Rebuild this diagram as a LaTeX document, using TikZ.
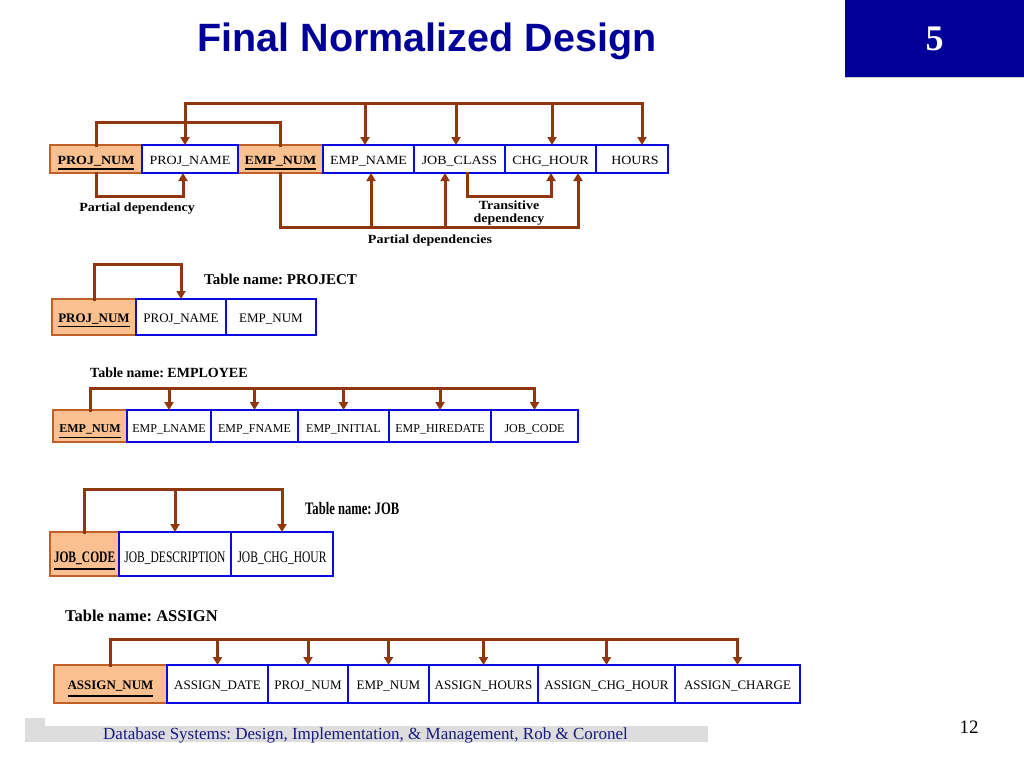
\documentclass[tikz,border=0pt]{standalone}
\usepackage{fontspec}
\setmainfont{Liberation Serif}
\newfontfamily\titlefont{Liberation Sans}
\newfontfamily\topf[FakeStretch=1.12]{Liberation Serif}
\newfontfamily\condf[FakeStretch=0.72]{Liberation Serif}
\usetikzlibrary{arrows.meta}
\newcommand\keyu[2][2pt]{\setbox0\hbox{#2}\vtop{\copy0\kern#1\hrule height 1.6pt width \wd0}}
\definecolor{depc}{RGB}{145,55,15}
\definecolor{keyfill}{RGB}{250,192,143}
\definecolor{keydraw}{RGB}{192,96,40}
\definecolor{cellblue}{RGB}{10,10,225}
\definecolor{titleblue}{RGB}{0,0,153}
\definecolor{footblue}{RGB}{25,25,125}
\definecolor{bargray}{RGB}{221,221,221}
\frenchspacing
\begin{document}
\frenchspacing
\begin{tikzpicture}[x=1pt,y=-1pt,
  cell/.style={draw=cellblue, line width=2.5pt, fill=white, inner sep=0pt, outer sep=0pt, anchor=north west, text depth=0pt},
  keycell/.style={cell, draw=keydraw, fill=keyfill},
  dep/.style={draw=depc, line width=3pt, line cap=rect},
  deparrow/.style={dep, -{Triangle[length=8pt,width=9pt]}},
  lab/.style={inner sep=0pt}]
\useasboundingbox (0,0) rectangle (1024,768);

% ---------- title ----------
\node[anchor=base, inner sep=0pt, text=titleblue, font=\titlefont\bfseries\fontsize{39.5}{40}\selectfont] (title) at (427,52) {Final Normalized Design};
\node[fill=titleblue, minimum width=179, minimum height=77, inner sep=0pt, anchor=north west] (box) at (845,0) {};
\draw[gray!45, line width=1.5pt] (box.south west) -- (box.south east);
\node[text=white, font=\bfseries\fontsize{36}{36}\selectfont] (num) at (box.center) {5};

% ---------- top dependency diagram ----------
\begin{scope}[font=\topf\fontsize{12.5}{14}\selectfont, cell/.append style={minimum height=28, text height=10pt}]
\node[keycell, minimum width=92] (t1) at (50,145) {\keyu[2.5pt]{\bfseries PROJ\_NUM}};
\node[keycell, minimum width=85] (t3) at (238,145) {\keyu[2.5pt]{\bfseries EMP\_NUM}};
\node[cell, minimum width=96] (t2) at (142,145) {PROJ\_NAME};
\node[cell, minimum width=91] (t4) at (323,145) {EMP\_NAME};
\node[cell, minimum width=91] (t5) at (414,145) {JOB\_CLASS};
\node[cell, minimum width=91] (t6) at (505,145) {CHG\_HOUR};
\node[cell, minimum width=72] (t7) at (596,145) {\hspace*{6pt}HOURS};
\end{scope}
% composite key bracket
\draw[dep] (t1.north) |- (t3.north |- 0,122) -- (t3.north);
% full dependency rail
\coordinate (r1) at (185,103);
\coordinate (r2) at (642,103);
\draw[dep] (r1) -- (r2);
\foreach \xx/\nn in {185/t2, 365/t4, 456/t5, 552/t6, 642/t7}
  \draw[deparrow] (\xx,103) -- (\xx,0 |- \nn.north);
% partial dependency PROJ_NUM -> PROJ_NAME
\coordinate (a1) at (183,196);
\draw[deparrow] (t1.south) |- (a1) -- (a1 |- t2.south);
% partial dependencies from EMP_NUM
\coordinate (b0) at (t3.south |- 0,227);
\coordinate (b1) at (578,227);
\draw[dep] (t3.south) -- (b0) -- (b1);
\foreach \xx/\nn in {371/t4, 445/t5, 578/t6}
  \draw[deparrow] (\xx,227) -- (\xx,0 |- \nn.south);
% transitive dependency JOB_CLASS -> CHG_HOUR
\coordinate (c0) at (467,0 |- t5.south);
\coordinate (c1) at (551,196);
\draw[deparrow] (c0) |- (c1) -- (c1 |- t6.south);
\node[lab, font=\topf\bfseries\fontsize{12.5}{12}\selectfont] (pd) at (137,209) {Partial dependency};
\node[lab, align=center, font=\topf\bfseries\fontsize{12.5}{13}\selectfont] (td) at (509,213) {Transitive\\dependency};
\node[lab, font=\topf\bfseries\fontsize{12.5}{12}\selectfont] (pds) at (430,240) {Partial dependencies};

% ---------- PROJECT ----------
\begin{scope}[font=\fontsize{13}{14}\selectfont, cell/.append style={minimum height=36, text height=10pt}]
\node[keycell, minimum width=84] (p1) at (52,299) {\keyu[2pt]{\bfseries PROJ\_NUM}};
\node[cell, minimum width=90] (p2) at (136,299) {PROJ\_NAME};
\node[cell, minimum width=90] (p3) at (226,299) {EMP\_NUM};
\end{scope}
\draw[deparrow] (p1.north) |- (p2.north |- 0,264) -- (p2.north);
\node[lab, anchor=west, font=\bfseries\fontsize{15}{15}\selectfont] (tp) at (204,279) {Table name: PROJECT};

% ---------- EMPLOYEE ----------
\node[lab, anchor=west, font=\bfseries\fontsize{14}{14}\selectfont] (te) at (90,373) {Table name: EMPLOYEE};
\begin{scope}[font=\fontsize{12}{14}\selectfont, cell/.append style={minimum height=32, text height=12pt}]
\node[keycell, minimum width=74] (e1) at (53,410) {\keyu[3pt]{\bfseries EMP\_NUM}};
\node[cell, minimum width=84] (e2) at (127,410) {EMP\_LNAME};
\node[cell, minimum width=87] (e3) at (211,410) {EMP\_FNAME};
\node[cell, minimum width=91] (e4) at (298,410) {EMP\_INITIAL};
\node[cell, minimum width=102] (e5) at (389,410) {EMP\_HIREDATE};
\node[cell, minimum width=87] (e6) at (491,410) {JOB\_CODE};
\end{scope}
\draw[dep] (e1.north) |- (e6.north |- 0,388);
\foreach \nn in {e2,e3,e4,e5,e6}
  \draw[deparrow] (\nn.north |- 0,388) -- (\nn.north);

% ---------- JOB ----------
\begin{scope}[font=\condf\fontsize{16}{16}\selectfont, cell/.append style={minimum height=44, text height=16pt}]
\node[keycell, minimum width=69] (j1) at (50,532) {\keyu[4pt]{\bfseries JOB\_CODE}};
\node[cell, minimum width=112] (j2) at (119,532) {JOB\_DESCRIPTION};
\node[cell, minimum width=102] (j3) at (231,532) {JOB\_CHG\_HOUR};
\end{scope}
\draw[dep] (j1.north) |- (j3.north |- 0,489);
\foreach \nn in {j2,j3}
  \draw[deparrow] (\nn.north |- 0,489) -- (\nn.north);
\node[lab, anchor=west, font=\condf\bfseries\fontsize{17.5}{17}\selectfont] (tj) at (305,509) {Table name: JOB};

% ---------- ASSIGN ----------
\node[lab, anchor=west, font=\bfseries\fontsize{16.5}{16}\selectfont] (ta) at (65,616) {Table name: ASSIGN};
\begin{scope}[font=\fontsize{13}{14}\selectfont, cell/.append style={minimum height=38, text height=10pt}]
\node[keycell, minimum width=113] (a1n) at (54,665) {\keyu[4.5pt]{\bfseries ASSIGN\_NUM}};
\node[cell, minimum width=101] (a2) at (167,665) {ASSIGN\_DATE};
\node[cell, minimum width=80] (a3) at (268,665) {PROJ\_NUM};
\node[cell, minimum width=81] (a4) at (348,665) {EMP\_NUM};
\node[cell, minimum width=109] (a5) at (429,665) {ASSIGN\_HOURS};
\node[cell, minimum width=137] (a6) at (538,665) {ASSIGN\_CHG\_HOUR};
\node[cell, minimum width=125] (a7) at (675,665) {ASSIGN\_CHARGE};
\end{scope}
\draw[dep] (a1n.north) |- (a7.north |- 0,639);
\foreach \nn in {a2,a3,a4,a5,a6,a7}
  \draw[deparrow] (\nn.north |- 0,639) -- (\nn.north);

% ---------- footer ----------
\fill[bargray] (25,718) rectangle (45,742);
\fill[bargray] (25,726) rectangle (708,742);
\node[lab, anchor=base west, text=footblue, font=\fontsize{17}{17}\selectfont] (foot) at (103,739) {Database Systems: Design, Implementation, \& Management, Rob \& Coronel};
\node[lab, anchor=base, font=\fontsize{19}{19}\selectfont] (pg) at (969,733) {12};
\end{tikzpicture}
\end{document}
